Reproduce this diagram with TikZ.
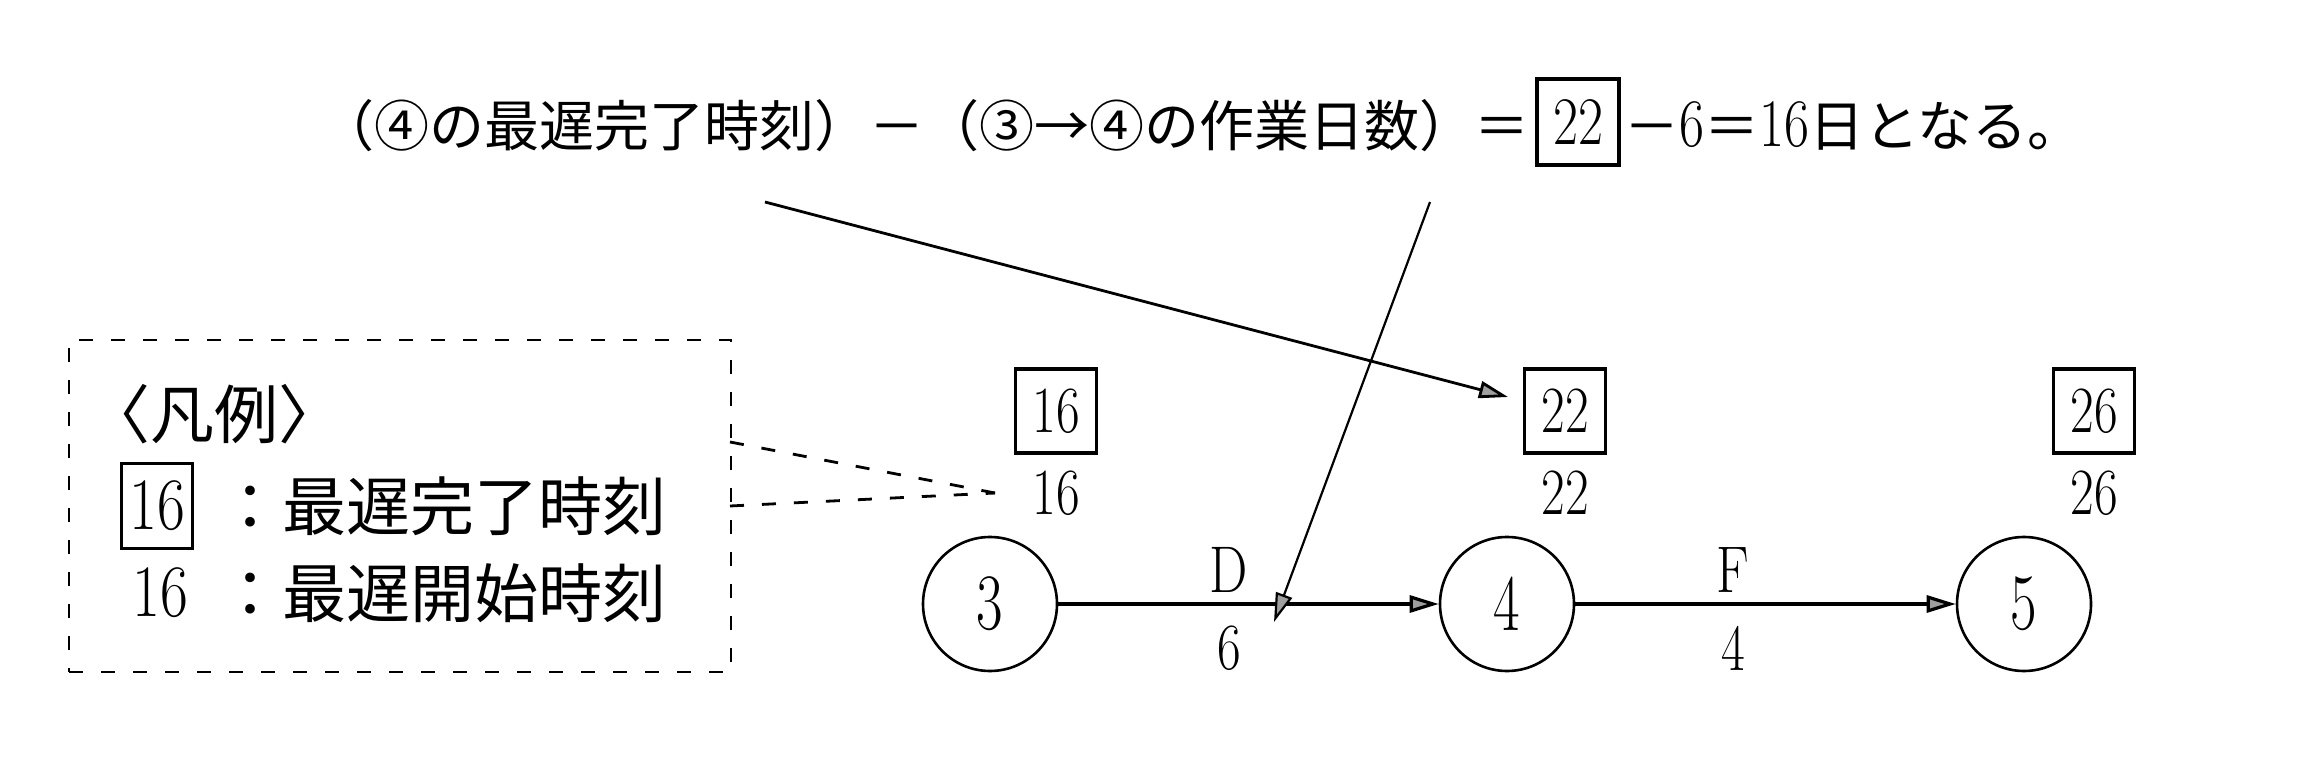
\documentclass[tikz,border=0pt]{standalone}
\usepackage{fontspec}
\usepackage{graphicx}
\newfontfamily\jp{Noto Sans CJK JP}
\usetikzlibrary{arrows.meta}
\newcommand\dg[2][0.8]{\scalebox{#1}[1]{#2}}
\begin{document}
\begin{tikzpicture}[x=0.5pt,y=-0.5pt,
  tip/.style={-{Triangle[length=14.5pt,width=8.5pt,fill=gray!75]}},
  edge/.style={draw,line width=1.6pt,tip},
  ptr/.style={draw,line width=1.4pt,tip},
  dsh/.style={draw,line width=1.4pt,dash pattern=on 7pt off 9pt},
  evt/.style={draw,circle,line width=1.3pt,minimum size=67pt,inner sep=0pt,font=\fontsize{40}{40}\selectfont},
  lst/.style={draw,line width=1.8pt,minimum width=40.5pt,minimum height=42pt,inner sep=0pt,font=\fontsize{33}{33}\selectfont},
  num/.style={inner sep=0pt,font=\fontsize{33}{33}\selectfont},
  top/.style={inner sep=0pt,font=\fontsize{27.5}{27.5}\selectfont},
  topnum/.style={font=\fontsize{34}{34}\selectfont},
  leg/.style={inner sep=0pt,font=\fontsize{32}{32}\selectfont},
  legnum/.style={inner sep=0pt,font=\fontsize{37}{37}\selectfont}]
\useasboundingbox[fill=white] (0,0) rectangle (2307,764);

% top sentence
\node[top,anchor=east] (tl) at (1530,126) {\jp （④の最遅完了時刻）－（③→④の作業日数）＝};
\node[draw,line width=1.8pt,minimum width=41pt,minimum height=43pt,inner sep=0pt,font=\fontsize{34}{34}\selectfont] (tb) at (1578,122) {\dg{22}};
\node[top,anchor=west] (tr) at (1624,126) {{\jp －}{\fontsize{34}{34}\selectfont\dg{6}}{\jp ＝}{\fontsize{34}{34}\selectfont\dg{16}}{\jp 日となる。}};

% legend
\node[dsh,minimum width=331pt,minimum height=166pt,inner sep=0pt] (legbox) at (400,506) {};
\node[leg,anchor=west] (lh) at (86,414) {\jp 〈凡例〉};
\node[draw,line width=1.8pt,minimum width=35.5pt,minimum height=42.5pt,inner sep=0pt,font=\fontsize{37}{37}\selectfont] (lb) at (157,506) {\dg[0.82]{16}};
\node[leg,anchor=west] (lt1) at (218,506) {\jp ：最遅完了時刻};
\node[legnum] (ln) at (160,593) {\dg[0.82]{16}};
\node[leg,anchor=west] (lt2) at (218,593) {\jp ：最遅開始時刻};

% events
\node[evt] (c3) at (990,604) {\dg[0.72]{3}};
\node[evt] (c4) at (1507,604) {\dg[0.72]{4}};
\node[evt] (c5) at (2024,604) {\dg[0.72]{5}};

\node[lst] (b16) at (1056,411) {\dg[0.78]{16}};
\node[num] (n16) at (1056,493) {\dg[0.78]{16}};
\node[lst] (b22) at (1565,411) {\dg[0.78]{22}};
\node[num] (n22) at (1565,493) {\dg[0.78]{22}};
\node[lst] (b26) at (2094,411) {\dg[0.78]{26}};
\node[num] (n26) at (2094,493) {\dg[0.78]{26}};

\node[num] (lD) at (1229,570) {\dg[0.82]{D}};
\node[num] (l6) at (1229,648) {\dg[0.78]{6}};
\node[num] (lF) at (1733,570) {\dg[0.82]{F}};
\node[num] (l4) at (1733,648) {\dg[0.78]{4}};

\draw[edge] (c3) -- (c4);
\draw[edge] (c4) -- (c5);

% pointers
\coordinate (p1s) at (765,202);
\coordinate (p1e) at (1508,397);
\coordinate (p2s) at (1430,202);
\coordinate (p2e) at (1274,622);
\draw[ptr] (p1s) -- (p1e);
\draw[ptr,line width=1.1pt] (p2s) -- (p2e);

% legend leaders
\coordinate (q1) at (730,442);
\coordinate (q2) at (730,506);
\coordinate (qt) at (995,493);
\draw[dsh] (q1) -- (qt);
\draw[dsh] (q2) -- (qt);
\end{tikzpicture}
\end{document}
